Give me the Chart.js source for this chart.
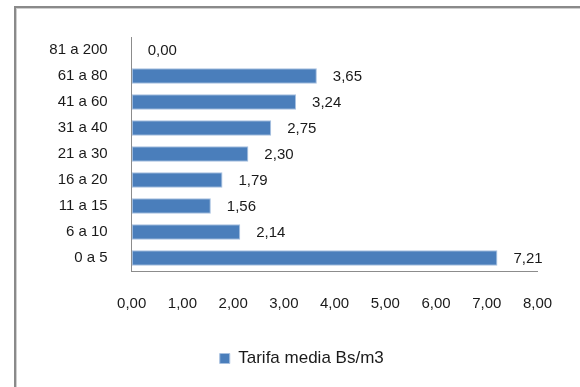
<!DOCTYPE html>
<html>
<head>
<meta charset="utf-8">
<script src="https://cdn.jsdelivr.net/npm/chart.js@4/dist/chart.umd.min.js"></script>
<style>
  html, body { margin: 0; padding: 0; background: #fff; overflow: hidden; width: 580px; height: 387px; }
  #frame { position: absolute; left: 14px; top: 6px; width: 620px; height: 440px;
           border: 2px solid #8a8a8a; box-shadow: inset 1px 1px 0 #cfcfcf; box-sizing: border-box; }
  #wrap { position: absolute; left: 0; top: 0; width: 588px; height: 387px; }
</style>
</head>
<body>
<div id="frame"></div>
<div id="wrap"><canvas id="chart"></canvas></div>
<script>
// Consumption bands (m3), bottom to top
const categories = ['0 a 5', '6 a 10', '11 a 15', '16 a 20', '21 a 30', '31 a 40', '41 a 60', '61 a 80', '81 a 200'];
// Average tariff per band (Bs/m3)
const tarifaMedia = [7.21, 2.14, 1.56, 1.79, 2.30, 2.75, 3.24, 3.65, 0.00];
const seriesName = 'Tarifa media Bs/m3';
const xMin = 0, xMax = 8, xStep = 1;

const FONT = "'Liberation Sans', Arial, sans-serif";
const TEXT = '#1a1a1a';
const fmt = v => Number(v).toFixed(2).replace('.', ',');

// Writes each bar's value just past its end
const valueLabels = {
  id: 'valueLabels',
  afterDatasetsDraw(chart) {
    const ctx = chart.ctx;
    ctx.save();
    ctx.font = '15px ' + FONT;
    ctx.fillStyle = TEXT;
    ctx.textAlign = 'left';
    ctx.textBaseline = 'middle';
    chart.data.datasets.forEach((ds, di) => {
      chart.getDatasetMeta(di).data.forEach((bar, i) => {
        ctx.fillText(fmt(ds.data[i]), bar.x + 16, bar.y + 1);
      });
    });
    ctx.restore();
  }
};

// Centres the legend under the whole framed panel rather than the plot
const legendShift = {
  id: 'legendShift',
  afterLayout(chart) {
    const lg = chart.legend;
    if (lg) { lg.left += 23; lg.right += 23; }
  }
};

new Chart(document.getElementById('chart'), {
  type: 'bar',
  data: {
    labels: categories,
    datasets: [{
      label: seriesName,
      data: tarifaMedia,
      backgroundColor: '#4a7ebb',
      borderColor: '#a7c0e0',
      borderWidth: 1,
      borderSkipped: false,
      barPercentage: 0.6,
      categoryPercentage: 1.0
    }]
  },
  options: {
    indexAxis: 'y',
    responsive: true,
    maintainAspectRatio: false,
    animation: false,
    layout: { padding: { left: 20, right: 50.5, top: 37, bottom: 10 } },
    scales: {
      x: {
        min: xMin, max: xMax,
        grid: { display: false, drawTicks: false },
        border: { display: true, color: '#8c8c8c', width: 1 },
        ticks: {
          stepSize: xStep,
          padding: 23.5,
          color: TEXT,
          font: { family: FONT, size: 15 },
          maxRotation: 0,
          callback: v => fmt(v)
        },
        afterFit: s => { s.height = 69; }
      },
      y: {
        reverse: true,
        grid: { display: false, drawTicks: false },
        border: { display: true, color: '#8c8c8c', width: 1 },
        ticks: {
          padding: 24,
          color: TEXT,
          font: { family: FONT, size: 15 }
        },
        afterFit: s => { s.width = 111.7; }
      }
    },
    plugins: {
      legend: {
        position: 'bottom',
        labels: {
          boxWidth: 10,
          boxHeight: 10,
          color: TEXT,
          font: { family: FONT, size: 17 }
        }
      },
      tooltip: { enabled: false }
    }
  },
  plugins: [valueLabels, legendShift]
});
</script>
</body>
</html>
